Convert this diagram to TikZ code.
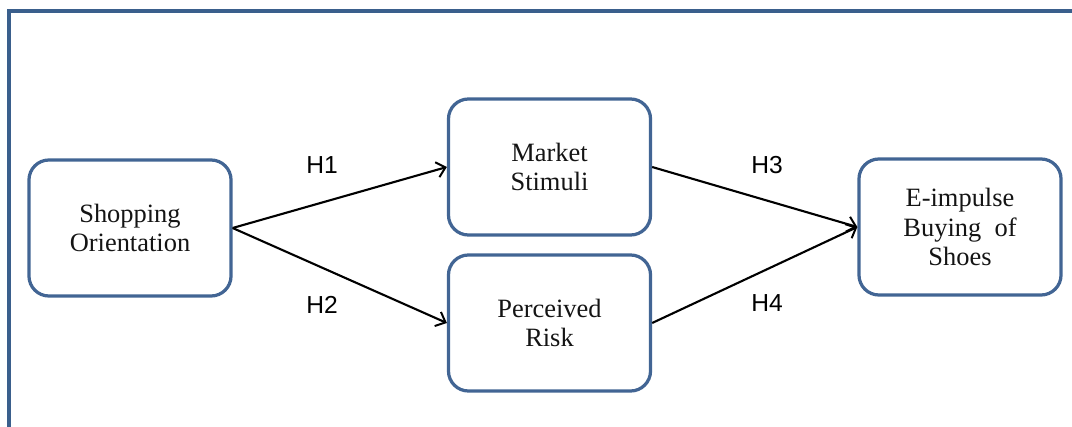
\documentclass[tikz,border=0pt]{standalone}
\usepackage{fontspec}
\setmainfont{Liberation Serif}
\newfontfamily\hypfont{Liberation Sans}
\usepackage{xcolor}
\usepackage{tikz}
\usetikzlibrary{arrows.meta, positioning}
\definecolor{smframe}{RGB}{58,95,140}
\definecolor{smbox}{RGB}{66,101,148}
\definecolor{smdark}{RGB}{20,20,20}

\tikzset{
  construct/.style={draw=smbox, line width=2.3pt, rounded corners=0.5cm,
    minimum width=5.05cm, minimum height=3.4cm, align=center,
    font=\fontsize{18.8}{20.8}\selectfont, text=smdark},
  hyp/.style={font=\hypfont\fontsize{17.5}{20}\selectfont, text=black},
  link/.style={draw=black, line width=1.5pt,
    -{Straight Barb[length=6pt, width=11pt, line width=1.4pt]}}
}

\begin{document}
\begin{tikzpicture}[x=0.025cm, y=-0.025cm]
% canvas
\useasboundingbox (0,0) rectangle (1072,427);
\draw[smframe, line width=2.2pt] (9,427) -- (9,11) -- (1072,11);

% constructs
\node[construct] (orient)  at (130,228)   {Shopping\\Orientation};
\node[construct] (stimuli) at (549.5,167) {Market\\Stimuli};
\node[construct] (risk)    at (549.5,323) {Perceived\\Risk};
\node[construct, font=\fontsize{18.8}{21.3}\selectfont]
                 (impulse) at (960,227)   {E-impulse\\Buying\ \ of\\Shoes};

% hypotheses
\draw[link] (orient.east)  -- (stimuli.west);
\draw[link] (orient.east)  -- (risk.west);
\draw[link] (stimuli.east) -- (impulse.west);
\draw[link] (risk.east)    -- (impulse.west);

\node[hyp] (h1) at (322,165) {H1};
\node[hyp] (h2) at (322,305) {H2};
\node[hyp] (h3) at (767,165) {H3};
\node[hyp] (h4) at (767,303) {H4};
\end{tikzpicture}
\end{document}
